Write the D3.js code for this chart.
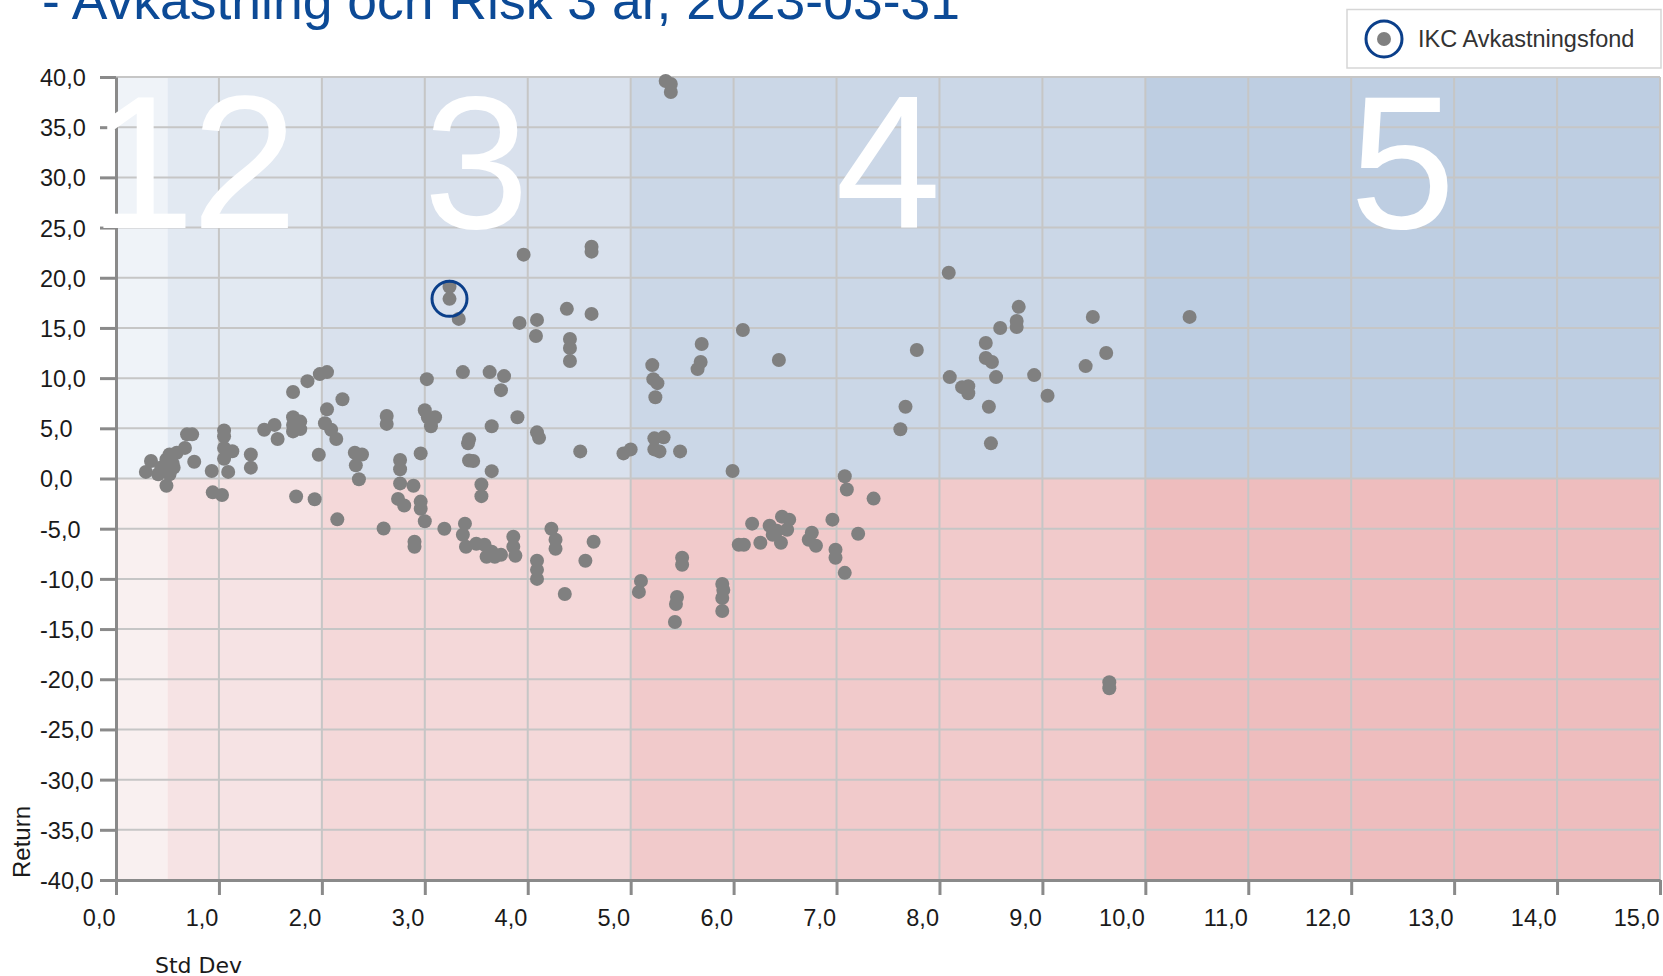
<!DOCTYPE html>
<html><head><meta charset="utf-8">
<script src="https://cdn.jsdelivr.net/npm/d3@7"></script>
<style>
html,body{margin:0;padding:0;background:#fff;}
svg{display:block;}
</style></head>
<body>
<svg id="chart" width="1663" height="976"></svg>
<script>
// ---- data ----
const titleText = "- Avkastning och Risk 3 år, 2023-03-31";
const legendLabel = "IKC Avkastningsfond";
const xLabel = "Std Dev";
const yLabel = "Return";
const xTicks = [0,1,2,3,4,5,6,7,8,9,10,11,12,13,14,15];
const yTicks = [-40,-35,-30,-25,-20,-15,-10,-5,0,5,10,15,20,25,30,35,40];
const riskBounds = [0,0.5,2,5,10,15];
const riskLabels = ["1","2","3","4","5"];
const stdDev = [
0.34,0.29,0.41,0.49,0.52,0.56,0.48,0.52,0.49,0.59,0.67,0.69,0.74,0.76,0.93,0.94,1.03,1.05,1.05,1.05,1.13,1.05,1.09,1.31,1.31,1.44,1.54,1.57,1.72,1.86,1.98,2.05,1.72,1.72,1.72,1.79,1.79,1.75,1.93,1.97,2.05,2.03,2.09,2.14,2.2,2.15,2.32,2.39,2.33,2.36,2.63,2.63,2.76,2.76,2.76,2.89,2.74,2.8,2.96,2.96,3.0,2.6,0.55,0.44,
3.96,4.62,4.62,3.24,3.33,3.92,4.09,4.08,4.38,4.62,4.41,4.41,4.41,3.02,3.37,3.63,3.77,3.74,3.0,3.03,3.1,3.06,3.9,3.65,3.43,3.42,3.43,3.47,3.65,2.96,4.09,4.11,4.51,4.93,5.0,3.55,3.55,3.19,3.39,2.9,2.9,3.37,3.4,3.5,3.58,3.6,3.68,3.74,3.65,3.86,3.86,3.88,4.23,4.27,4.27,4.64,4.56,4.09,4.09,4.09,4.36,
5.34,5.39,5.39,6.09,5.69,5.68,5.65,5.21,5.22,5.26,5.24,6.44,5.23,5.32,5.23,5.28,5.48,5.99,5.1,5.08,5.45,5.44,5.43,5.5,5.5,5.89,5.9,5.89,5.89,6.18,6.35,6.47,6.54,6.52,6.38,6.26,6.46,6.05,6.1,6.42,6.76,6.73,6.8,6.96,7.21,6.99,6.99,7.08,7.08,7.1,7.36,
8.09,8.77,8.75,8.75,8.59,8.45,8.45,8.51,7.78,8.1,8.55,8.92,8.22,8.28,8.28,9.05,8.48,7.67,7.62,8.5,9.49,10.43,9.62,9.42,9.65,9.65
];
const returns = [
1.74,0.66,0.43,1.9,2.4,1.08,0.75,0.43,-0.72,2.56,3.05,4.4,4.4,1.67,0.75,-1.38,-1.64,4.79,4.2,3.05,2.72,1.97,0.66,2.39,1.08,4.85,5.34,3.93,8.62,9.7,10.4,10.6,6.1,5.34,4.69,5.67,4.92,-1.8,-2.07,2.36,6.89,5.5,4.85,3.93,7.9,-4.07,2.56,2.39,1.31,-0.07,6.23,5.44,1.84,0.92,-0.49,-0.72,-2.03,-2.69,-2.3,-3.02,-4.26,-4.98,1.5,1.1,
22.3,23.1,22.6,19.1,15.9,15.5,15.8,14.2,16.9,16.4,13.9,13.0,11.7,9.9,10.6,10.6,10.2,8.8,6.8,6.1,6.1,5.2,6.1,5.2,3.9,3.5,1.8,1.75,0.73,2.5,4.6,4.05,2.7,2.5,2.9,-0.6,-1.76,-5.0,-4.5,-6.3,-6.8,-5.6,-6.8,-6.5,-6.6,-7.8,-7.8,-7.6,-7.3,-5.8,-6.8,-7.7,-5.0,-6.1,-7.0,-6.3,-8.2,-8.2,-9.1,-10.0,-11.5,
39.6,39.3,38.5,14.8,13.4,11.6,10.9,11.3,9.9,9.5,8.1,11.8,4.0,4.1,2.9,2.7,2.7,0.74,-10.2,-11.3,-11.8,-12.5,-14.3,-7.9,-8.6,-10.5,-11.1,-11.9,-13.2,-4.5,-4.7,-3.8,-4.1,-5.1,-5.6,-6.4,-6.4,-6.6,-6.6,-5.2,-5.4,-6.1,-6.7,-4.1,-5.5,-7.1,-7.9,-9.4,0.22,-1.1,-2.0,
20.5,17.1,15.7,15.1,15.0,13.5,12.0,11.6,12.8,10.1,10.1,10.3,9.1,9.2,8.5,8.25,7.15,7.15,4.9,3.5,16.1,16.1,12.5,11.2,-20.3,-20.9
];
const highlightStdDev = 3.24;
const highlightReturn = 17.9;

// ---- styles ----
const blueBands = ['#eff3f8','#e2e9f2','#d9e1ed','#cbd7e7','#becee2'];
const redBands  = ['#f9f0f0','#f6e3e4','#f4d8d9','#f1cacb','#eebdbe'];
const dotColor = '#808080';
const ringColor = '#0b3f8a';
const titleColor = '#0c4a96';

const svg = d3.select('#chart');
const x = d3.scaleLinear().domain([0,15]).range([116,1660]);
const y = d3.scaleLinear().domain([-40,40]).range([880,77]);
const fmt = v => d3.format('.1f')(v).replace('.',',').replace('−','-');

// title
svg.append('text').attr('x',42).attr('y',18.6)
  .attr('font-family','"Liberation Sans", Arial, sans-serif').attr('font-size',53.5)
  .attr('fill',titleColor).text(titleText);

// bands
const bandIdx = d3.range(riskLabels.length);
svg.append('g').selectAll('rect.b').data(bandIdx).join('rect')
  .attr('x',i=>x(riskBounds[i])).attr('width',i=>x(riskBounds[i+1])-x(riskBounds[i]))
  .attr('y',y(40)).attr('height',y(0)-y(40)).attr('fill',i=>blueBands[i]);
svg.append('g').selectAll('rect.r').data(bandIdx).join('rect')
  .attr('x',i=>x(riskBounds[i])).attr('width',i=>x(riskBounds[i+1])-x(riskBounds[i]))
  .attr('y',y(0)).attr('height',y(-40)-y(0)).attr('fill',i=>redBands[i]);

// grid
const grid = svg.append('g').attr('stroke','#c6c6c6').attr('stroke-width',2);
grid.selectAll('line.v').data(xTicks.slice(1)).join('line')
  .attr('x1',d=>x(d)).attr('x2',d=>x(d)).attr('y1',y(40)).attr('y2',y(-40));
grid.selectAll('line.h').data(yTicks.slice(1)).join('line')
  .attr('y1',d=>y(d)).attr('y2',d=>y(d)).attr('x1',x(0)).attr('x2',x(15));

// axes
const yAxis = svg.append('g').attr('transform',`translate(${x(0)},0)`)
  .call(d3.axisLeft(y).tickValues(yTicks).tickSize(16).tickSizeOuter(0).tickFormat(fmt));
yAxis.selectAll('text').attr('text-anchor','start').attr('x',40 - x(0)).attr('dy','0.36em')
  .attr('font-size',23.5).attr('font-family','"Liberation Sans", Arial, sans-serif').attr('fill','#1a1a1a');
const xAxis = svg.append('g').attr('transform',`translate(0,${y(-40)})`)
  .call(d3.axisBottom(x).tickValues(xTicks).tickSize(15).tickSizeOuter(0).tickFormat(fmt));
xAxis.selectAll('text').attr('text-anchor','end').attr('x',-1).attr('y',46).attr('dy',0)
  .attr('font-size',23.5).attr('font-family','"Liberation Sans", Arial, sans-serif').attr('fill','#1a1a1a');
svg.selectAll('.domain').attr('stroke','#8a8a8a').attr('stroke-width',3);
svg.selectAll('.tick line').attr('stroke','#8a8a8a').attr('stroke-width',3);

// big risk numbers
svg.append('g').selectAll('text').data(bandIdx).join('text')
  .attr('x',i=>x((riskBounds[i]+riskBounds[i+1])/2)).attr('y',228)
  .attr('text-anchor','middle').attr('font-size',190)
  .attr('font-family','"Liberation Sans", Arial, sans-serif').attr('fill','#ffffff')
  .text(i=>riskLabels[i]);

// points
const pts = stdDev.map((s,i)=>({s, r: returns[i]}));
svg.append('g').selectAll('circle').data(pts).join('circle')
  .attr('cx',d=>x(d.s)).attr('cy',d=>y(d.r)).attr('r',7).attr('fill',dotColor);
svg.append('circle').attr('cx',x(highlightStdDev)).attr('cy',y(highlightReturn)).attr('r',7).attr('fill',dotColor);
svg.append('circle').attr('cx',x(highlightStdDev)).attr('cy',y(highlightReturn)).attr('r',17.5)
  .attr('fill','none').attr('stroke',ringColor).attr('stroke-width',3);

// axis labels
svg.append('text').attr('transform','translate(30,878) rotate(-90)')
  .attr('font-size',24).attr('font-family','"Liberation Sans", Arial, sans-serif').attr('fill','#1a1a1a').text(yLabel);
svg.append('text').attr('x',155).attr('y',973)
  .attr('font-size',22).attr('font-family','"DejaVu Sans", sans-serif').attr('fill','#1a1a1a').text(xLabel);

// legend
const lg = svg.append('g');
lg.append('rect').attr('x',1347).attr('y',9.5).attr('width',314).attr('height',58.5)
  .attr('fill','#fff').attr('stroke','#d6d6d6').attr('stroke-width',1.5);
lg.append('circle').attr('cx',1384).attr('cy',39).attr('r',18).attr('fill','none')
  .attr('stroke',ringColor).attr('stroke-width',3);
lg.append('circle').attr('cx',1384).attr('cy',39).attr('r',7).attr('fill',dotColor);
lg.append('text').attr('x',1418).attr('y',47).attr('font-size',23.5)
  .attr('font-family','"Liberation Sans", Arial, sans-serif').attr('fill','#333').text(legendLabel);
</script>
</body></html>
